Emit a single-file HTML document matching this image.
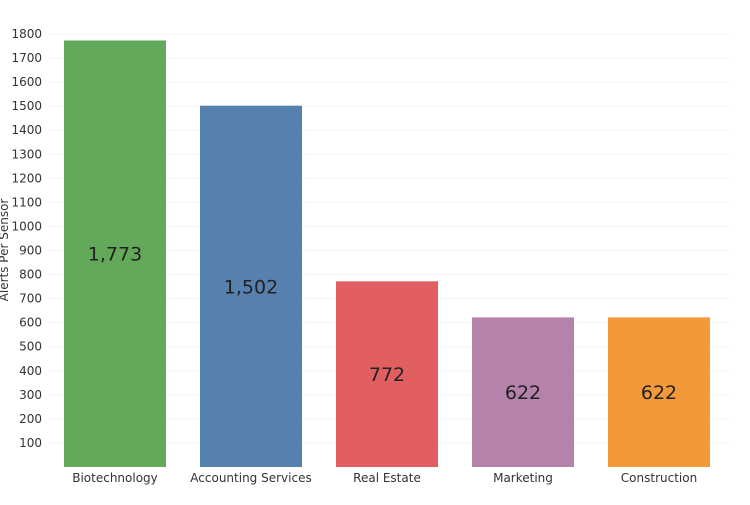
<!DOCTYPE html>
<html><head><meta charset="utf-8"><style>
body{margin:0;background:#fff;font-family:"Liberation Sans",sans-serif}
svg text{font-family:"DejaVu Sans","Liberation Sans",sans-serif}
</style></head><body>
<svg id="c" width="750" height="500" xmlns="http://www.w3.org/2000/svg"></svg>
<script>
const categories=["Biotechnology","Accounting Services","Real Estate","Marketing","Construction"];
const values=[1773,1502,772,622,622];
const valueLabels=["1,773","1,502","772","622","622"];
const colors=["#63a95a","#5680ad","#e25f61","#b582ab","#f29939"];
const ticks=[100,200,300,400,500,600,700,800,900,1000,1100,1200,1300,1400,1500,1600,1700,1800];
const svg=document.getElementById('c');const NS="http://www.w3.org/2000/svg";
const y0=467,pxPer=(467-34)/1800;
const y=v=>y0-v*pxPer;
const x=i=>64+i*136;const bw=102;
function mk(t,a,txt){const e=document.createElementNS(NS,t);for(const k in a)e.setAttribute(k,a[k]);if(txt!=null)e.textContent=txt;svg.appendChild(e);return e;}
ticks.forEach(t=>{
 const g=mk('line',{x1:48,x2:730,y1:y(t),y2:y(t),stroke:'#f2f2f2','stroke-width':1});
 
 
 const l=mk('text',{x:42,y:y(t)+4,'text-anchor':'end','font-size':12,fill:'#333'},t);
 
 
});
const yt=mk('text',{x:8,y:250,'text-anchor':'middle','font-size':12,fill:'#333',transform:'rotate(-90 8 250)'},'Alerts Per Sensor');


values.forEach((v,i)=>{
 const r=mk('rect',{x:x(i),y:y(v),width:bw,height:y0-y(v),fill:colors[i]});
 
 
 const t=mk('text',{x:x(i)+bw/2,y:(y(v)+y0)/2+7,'text-anchor':'middle','font-size':19,fill:'#222'},valueLabels[i]);
 
 
 const c=mk('text',{x:x(i)+bw/2,y:482,'text-anchor':'middle','font-size':12,fill:'#333'},categories[i]);
 
 
});
</script>
</body></html>
